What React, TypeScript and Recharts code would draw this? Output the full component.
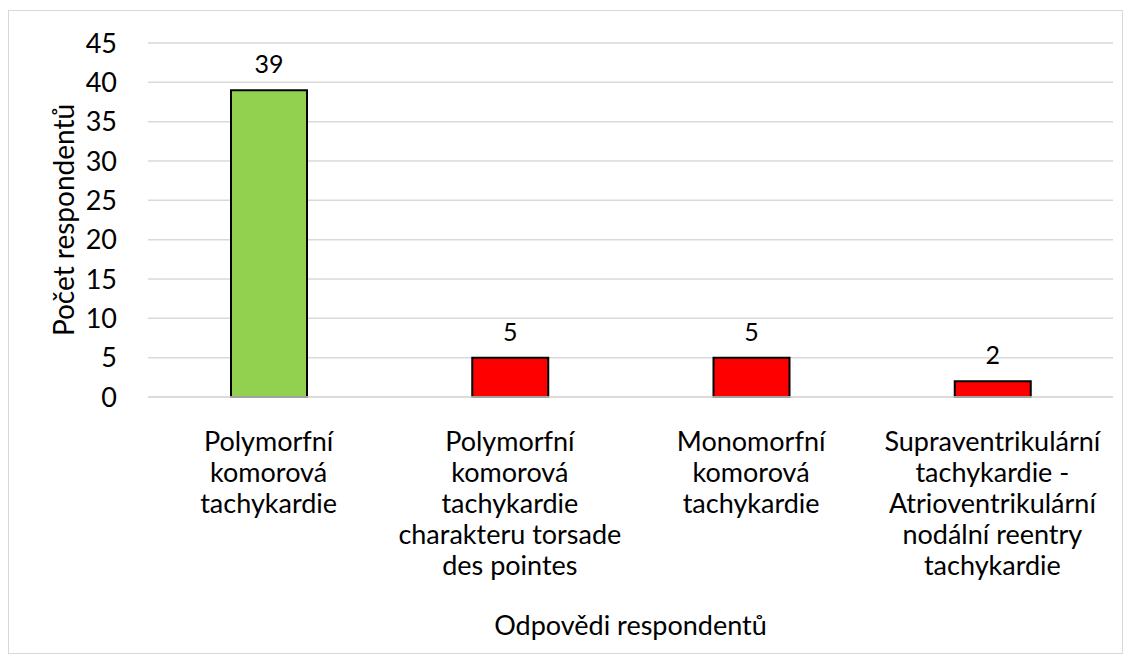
import { BarChart, Bar, XAxis, YAxis, CartesianGrid, Cell, LabelList } from "recharts";

const categories = [
  ["Polymorfní", "komorová", "tachykardie"],
  ["Polymorfní", "komorová", "tachykardie", "charakteru torsade", "des pointes"],
  ["Monomorfní", "komorová", "tachykardie"],
  ["Supraventrikulární", "tachykardie -", "Atrioventrikulární", "nodální reentry", "tachykardie"],
];
const counts = [39, 5, 5, 2];
const barColors = ["#92D050", "#FF0000", "#FF0000", "#FF0000"];
const yTicks = [0, 5, 10, 15, 20, 25, 30, 35, 40, 45];

const data = categories.map((lines, i) => ({
  name: lines.join(" "),
  lines,
  value: counts[i],
}));

const FONT = "Lato, 'Open Sans', sans-serif";

function CategoryTick(props: any) {
  const { x, y, index } = props;
  const lines = data[index]?.lines ?? [];
  return (
    <text x={x} y={y + 46} textAnchor="middle" fill="#000" fontSize={27} fontFamily={FONT}>
      {lines.map((l: string, i: number) => (
        <tspan key={i} x={x} dy={i === 0 ? 0 : 31}>
          {l}
        </tspan>
      ))}
    </text>
  );
}

function YTitle(props: any) {
  const { viewBox } = props;
  const cx = 54;
  const cy = viewBox.y + viewBox.height / 2;
  return (
    <text
      x={cx}
      y={cy}
      transform={`rotate(-90 ${cx} ${cy})`}
      textAnchor="middle"
      dominantBaseline="central"
      fill="#000"
      fontSize={28}
      fontFamily={FONT}
    >
      Počet respondentů
    </text>
  );
}

export default function App() {
  return (
    <div
      style={{
        width: 1113,
        height: 642,
        marginTop: 2,
        border: "1px solid #d9d9d9",
        background: "#fff",
      }}
    >
      <BarChart
        width={1113}
        height={642}
        data={data}
        margin={{ top: 32, right: 9, left: 0, bottom: 0 }}
        barCategoryGap={0}
      >
        <CartesianGrid vertical={false} stroke="#d9d9d9" strokeWidth={1.5} />
        <XAxis
          dataKey="name"
          height={256}
          axisLine={{ stroke: "#d9d9d9", strokeWidth: 1.5 }}
          tickLine={false}
          interval={0}
          tick={<CategoryTick />}
          label={{
            value: "Odpovědi respondentů",
            position: "insideBottom",
            offset: 18,
            fill: "#000",
            fontSize: 27,
            fontFamily: FONT,
          }}
        />
        <YAxis
          width={139}
          domain={[0, 45]}
          ticks={yTicks}
          axisLine={false}
          tickLine={false}
          tickSize={0}
          tickMargin={31}
          tick={{ fill: "#000", fontSize: 27, fontFamily: FONT }}
          label={<YTitle />}
        />
        <Bar dataKey="value" barSize={76} stroke="#000" strokeWidth={2} isAnimationActive={false}>
          {data.map((_, i) => (
            <Cell key={i} fill={barColors[i]} />
          ))}
          <LabelList
            dataKey="value"
            position="top"
            offset={17}
            fill="#000"
            fontSize={25}
            fontFamily={FONT}
          />
        </Bar>
      </BarChart>
    </div>
  );
}
